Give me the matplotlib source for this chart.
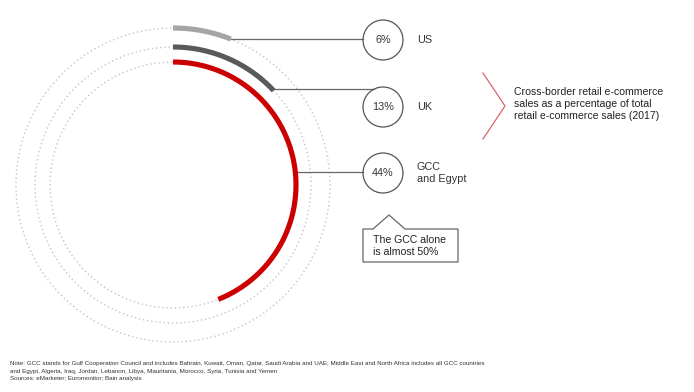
import numpy as np
import matplotlib.pyplot as plt
from matplotlib.patches import Circle, Polygon

plt.rcParams["font.family"] = ["Liberation Sans", "DejaVu Sans"]

# data
regions = ["US", "UK", "GCC\nand Egypt"]
shares = [6, 13, 44]
share_labels = ["6%", "13%", "44%"]
arc_colors = ["#a5a5a5", "#5a5a5a", "#cc0000"]

title_text = "Cross-border retail e-commerce\nsales as a percentage of total\nretail e-commerce sales (2017)"
callout_text = "The GCC alone\nis almost 50%"
note_text = (
    "Note: GCC stands for Gulf Cooperation Council and includes Bahrain, Kuwait, Oman, Qatar, "
    "Saudi Arabia and UAE; Middle East and North Africa includes all GCC countries\n"
    "and Egypt, Algeria, Iraq, Jordan, Lebanon, Libya, Mauritania, Morocco, Syria, Tunisia and Yemen\n"
    "Sources: eMarketer; Euromonitor; Bain analysis"
)

W, H = 694, 392
fig = plt.figure(figsize=(W / 100, H / 100), dpi=100)
ax = fig.add_axes([0, 0, 1, 1])
ax.set_xlim(0, W)
ax.set_ylim(H, 0)
ax.set_aspect("equal")
ax.axis("off")

# layout (pixel space)
cx, cy = 173, 185
radii = [157, 138, 123]
bubble_x, bubble_r = 383, 20
bubble_y = [40, 107, 173]
line_y = [39, 89, 172]

for r in radii:
    ax.add_patch(Circle((cx, cy), r, fill=False, ec="#c4c4c4", lw=1.0,
                        ls=(0, (1, 2)), zorder=1))

for i, (val, r, col) in enumerate(zip(shares, radii, arc_colors)):
    sweep = val / 100 * 2 * np.pi
    t = np.linspace(0, sweep, 200)
    ax.plot(cx + r * np.sin(t), cy - r * np.cos(t), color=col, lw=3.7,
            solid_capstyle="butt", zorder=3)

    # connector from arc to bubble
    ly = line_y[i]
    if i < 2:
        x0 = cx + r * np.sin(sweep)
    else:
        x0 = cx + np.sqrt(r ** 2 - (ly - cy) ** 2)
    dy = ly - bubble_y[i]
    x1 = bubble_x - np.sqrt(max(bubble_r ** 2 - dy ** 2, 0))
    ax.plot([x0, x1], [ly, ly], color="#666666", lw=0.9, zorder=2)

    ax.add_patch(Circle((bubble_x, bubble_y[i]), bubble_r, fill=False,
                        ec="#555555", lw=0.9, zorder=2))
    ax.text(bubble_x, bubble_y[i], share_labels[i], ha="center", va="center",
            fontsize=7.8, color="#333333")
    ax.text(417, bubble_y[i], regions[i], ha="left", va="center",
            fontsize=7.8, color="#333333", linespacing=1.3)

# chevron and title
ax.plot([483, 505, 483], [73, 106, 139], color="#e0606e", lw=0.9)
ax.text(514, 104, title_text, ha="left", va="center", fontsize=7.6,
        color="#222222", linespacing=1.2)

# callout box
ax.add_patch(Polygon([(363, 229), (373, 229), (389, 215), (405, 229),
                      (458, 229), (458, 262), (363, 262)],
                     closed=True, fill=True, fc="white", ec="#666666", lw=0.9))
ax.text(373, 246, callout_text, ha="left", va="center", fontsize=7.6,
        color="#222222", linespacing=1.25)

# footnote
ax.text(10, 371, note_text, ha="left", va="center", fontsize=4.5,
        color="#333333", linespacing=1.65)

fig.savefig("out.png", dpi=100)
